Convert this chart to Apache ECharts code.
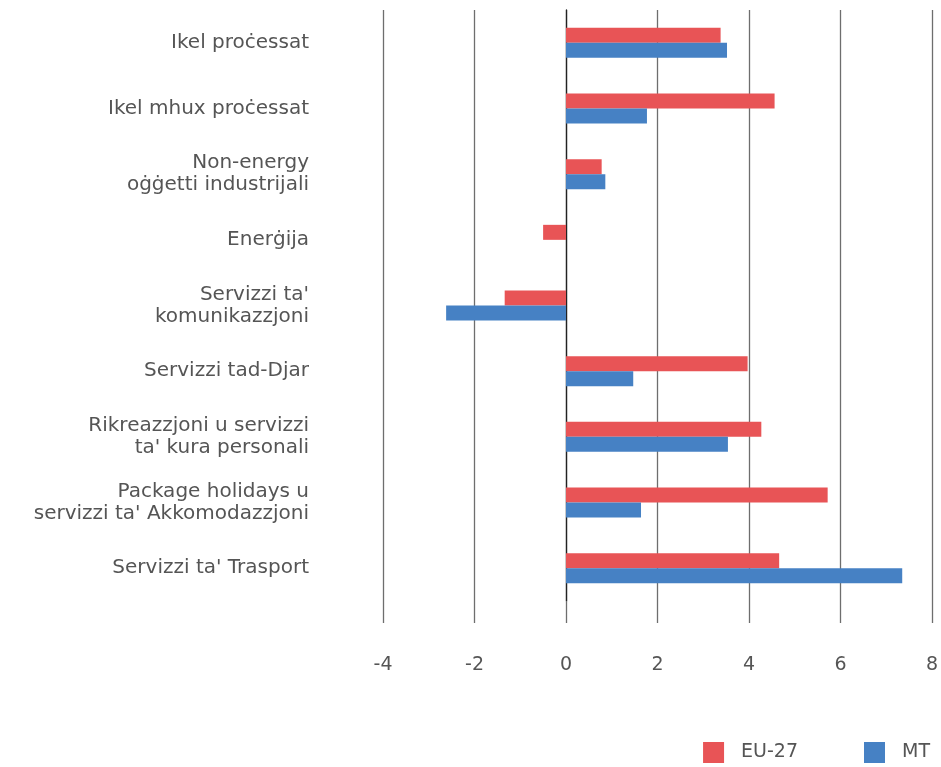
<!DOCTYPE html>
<html>
<head>
<meta charset="utf-8">
<script src="https://cdn.jsdelivr.net/npm/echarts@6/dist/echarts.min.js"></script>
<style>
  html, body { margin: 0; padding: 0; background: #fff; }
  #chart { width: 941px; height: 767px; }
</style>
</head>
<body>
<div id="chart"></div>
<script>
const categories = [
    "Ikel proċessat",
    "Ikel mhux proċessat",
    "Non-energy\noġġetti industrijali",
    "Enerġija",
    "Servizzi ta'\nkomunikazzjoni",
    "Servizzi tad-Djar",
    "Rikreazzjoni u servizzi\nta' kura personali",
    "Package holidays u\nservizzi ta' Akkomodazzjoni",
    "Servizzi ta' Trasport"
];
const eu27 = [3.38, 4.56, 0.78, -0.5, -1.34, 3.97, 4.27, 5.72, 4.66];
const mt = [3.52, 1.77, 0.86, 0, -2.62, 1.47, 3.54, 1.64, 7.35];

const euColor = '#E85456';
const mtColor = '#4681C4';
const textColor = '#555555';
const fontFamily = '"DejaVu Sans", sans-serif';

const chart = echarts.init(document.getElementById('chart'));

chart.setOption({
    animation: false,
    textStyle: { fontFamily: fontFamily },
    grid: { left: 383, right: 9, top: 10, bottom: 166, containLabel: false },
    legend: {
        right: 11,
        top: 742,
        padding: 0,
        itemWidth: 21,
        itemHeight: 21,
        itemGap: 66,
        icon: 'rect',
        textStyle: { color: textColor, fontSize: 19, fontFamily: fontFamily, padding: [0, 0, 0, 12] },
        data: ['EU-27', 'MT']
    },
    xAxis: {
        type: 'value',
        min: -4,
        max: 8,
        interval: 2,
        axisLine: { show: false },
        axisTick: { show: true, length: 22, lineStyle: { color: '#6e6e6e', width: 1.3 } },
        splitLine: { show: true, lineStyle: { color: '#6e6e6e', width: 1.3 } },
        axisLabel: { color: textColor, fontSize: 19, margin: 55 }
    },
    yAxis: {
        type: 'category',
        inverse: true,
        data: categories,
        axisLine: { show: true, onZero: true, lineStyle: { color: '#222', width: 1.3 } },
        axisTick: { show: false },
        axisLabel: {
            color: textColor,
            fontSize: 20,
            lineHeight: 22,
            margin: 74,
            align: 'right'
        }
    },
    series: [
        {
            name: 'EU-27',
            type: 'bar',
            data: eu27,
            barWidth: 15,
            barGap: '0%',
            itemStyle: { color: euColor }
        },
        {
            name: 'MT',
            type: 'bar',
            data: mt,
            barWidth: 15,
            barGap: '0%',
            itemStyle: { color: mtColor }
        }
    ]
});
</script>
</body>
</html>
